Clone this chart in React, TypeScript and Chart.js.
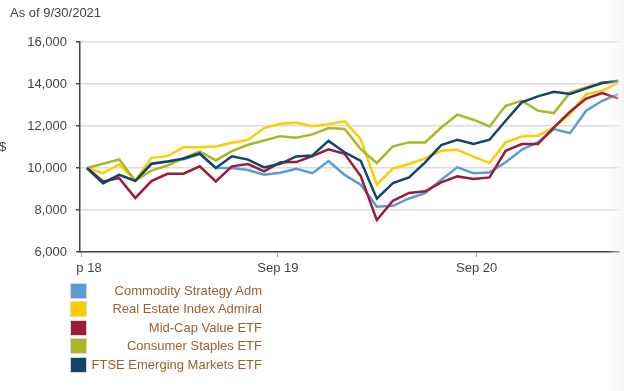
import React, { useEffect, useRef } from "react";
import { Chart, registerables } from "chart.js";

Chart.register(...registerables);

const asOfLabel = "As of 9/30/2021";
const yAxisLabel = "$";

const seriesNames = [
  "Commodity Strategy Adm",
  "Real Estate Index Admiral",
  "Mid-Cap Value ETF",
  "Consumer Staples ETF",
  "FTSE Emerging Markets ETF",
];
const seriesColors = ["#5b9bd5", "#ffcc00", "#9e1b34", "#a9b824", "#11466b"];

const commodity = [10000, 9280, 9676, 9390, 10200, 10310, 10420, 10660, 10000, 10000, 9900, 9680, 9770, 9960, 9750, 10330, 9670, 9200, 8160, 8200, 8550, 8800, 9440, 10030, 9750, 9790, 10270, 10870, 11220, 11850, 11660, 12730, 13200, 13520];
const realEstate = [10000, 9755, 10170, 9410, 10485, 10565, 10993, 10993, 11025, 11200, 11340, 11900, 12110, 12150, 11990, 12080, 12220, 11370, 9210, 9980, 10190, 10460, 10820, 10870, 10540, 10236, 11220, 11500, 11540, 11930, 12570, 13520, 13680, 14040];
const midCapValue = [10000, 9360, 9517, 8565, 9375, 9724, 9730, 10080, 9360, 10080, 10190, 9840, 10270, 10280, 10570, 10890, 10680, 9620, 7520, 8440, 8810, 8890, 9315, 9600, 9474, 9553, 10820, 11140, 11140, 11930, 12680, 13310, 13570, 13310];
const consumerStaples = [10000, 10200, 10406, 9390, 9880, 10120, 10470, 10790, 10360, 10800, 11105, 11310, 11516, 11436, 11600, 11900, 11860, 10900, 10240, 11030, 11220, 11220, 11930, 12540, 12300, 11980, 12965, 13200, 12730, 12616, 13600, 13840, 14076, 14108];
const emergingMarkets = [10000, 9280, 9676, 9390, 10200, 10310, 10450, 10690, 10000, 10560, 10400, 10030, 10200, 10550, 10600, 11290, 10750, 10340, 8540, 9283, 9553, 10267, 11093, 11347, 11140, 11347, 12250, 13124, 13410, 13632, 13521, 13791, 14044, 14155];

const seriesValues = [commodity, realEstate, midCapValue, consumerStaples, emergingMarkets];

const xTickPositions = [-0.37, 11.86, 24.2];
const xTickLabels = ["Sep 18", "Sep 19", "Sep 20"];
const yTicks = [6000, 8000, 10000, 12000, 14000, 16000];

const FONT = "'Liberation Sans', Arial, sans-serif";

export default function App() {
  const canvasRef = useRef<HTMLCanvasElement | null>(null);

  useEffect(() => {
    if (!canvasRef.current) return;
    const datasets = seriesValues.map((vals, s) => ({
      label: seriesNames[s],
      data: vals.map((v, i) => ({ x: i, y: v })),
      borderColor: seriesColors[s],
      backgroundColor: seriesColors[s],
      borderWidth: 2.5,
      pointRadius: 0,
      tension: 0,
      fill: false,
      order: seriesValues.length - s,
    }));
    const chart = new Chart(canvasRef.current, {
      type: "line",
      data: { datasets },
      options: {
        animation: false,
        responsive: false,
        devicePixelRatio: 1,
        layout: { padding: { top: 42, right: 5, left: 0, bottom: 0 } },
        plugins: { legend: { display: false }, tooltip: { enabled: false } },
        scales: {
          x: {
            type: "linear",
            min: -0.435,
            max: 33.04,
            afterBuildTicks: (axis: any) => {
              axis.ticks = xTickPositions.map((v) => ({ value: v }));
            },
            afterFit: (axis: any) => {
              axis.height = 32;
            },
            ticks: {
              autoSkip: false,
              maxRotation: 0,
              padding: 4,
              color: "#444",
              font: { family: FONT, size: 13 },
              callback: (_v: any, index: number) => xTickLabels[index],
            },
            grid: {
              drawOnChartArea: false,
              tickLength: 5,
              tickColor: "#aaa",
            },
            border: { color: "#444", width: 1.5 },
          },
          y: {
            min: 6000,
            max: 16000,
            afterBuildTicks: (axis: any) => {
              axis.ticks = yTicks.map((v) => ({ value: v }));
            },
            afterFit: (axis: any) => {
              axis.width = 80;
            },
            ticks: {
              padding: 9,
              color: "#444",
              font: { family: FONT, size: 13 },
              callback: (v: any) => Number(v).toLocaleString("en-US"),
            },
            grid: {
              color: "#dcdcdc",
              lineWidth: 1.5,
              tickLength: 4,
              tickColor: "#444",
            },
            border: { color: "#444", width: 1.5 },
          },
        },
      },
    });
    return () => chart.destroy();
  }, []);

  return (
    <div
      style={{
        position: "absolute",
        left: 0,
        top: 0,
        width: 624,
        height: 391,
        overflow: "hidden",
        background: "#fff",
        fontFamily: FONT,
      }}
    >
      <canvas
        ref={canvasRef}
        width={624}
        height={284}
        style={{ position: "absolute", left: 0, top: 0, width: 624, height: 284 }}
      />
      <div style={{ position: "absolute", left: 10, top: 5, fontSize: 13, color: "#444", whiteSpace: "nowrap" }}>
        {asOfLabel}
      </div>
      <div style={{ position: "absolute", left: -1, top: 139, fontSize: 13, color: "#444" }}>{yAxisLabel}</div>
      <div style={{ position: "absolute", left: 56, top: 260, width: 21, height: 20, background: "#fff" }} />
      <div
        style={{
          position: "absolute",
          left: 606,
          top: 0,
          width: 18,
          height: 391,
          background: "linear-gradient(to right, rgba(255,255,255,0), rgba(242,242,242,0.75))",
        }}
      />
      {seriesNames.map((name, s) => (
        <div key={name} style={{ position: "absolute", left: 70, top: 283 + s * 18.4, height: 16, width: 200 }}>
          <div
            style={{
              position: "absolute",
              left: 0,
              top: 0,
              width: 15,
              height: 14,
              background: seriesColors[s],
              border: "1px solid #d8d8d8",
            }}
          />
          <div
            style={{
              position: "absolute",
              right: 8,
              top: 0,
              lineHeight: "16px",
              fontSize: 13,
              color: "#9a6230",
              whiteSpace: "nowrap",
              textAlign: "right",
            }}
          >
            {name}
          </div>
        </div>
      ))}
    </div>
  );
}
